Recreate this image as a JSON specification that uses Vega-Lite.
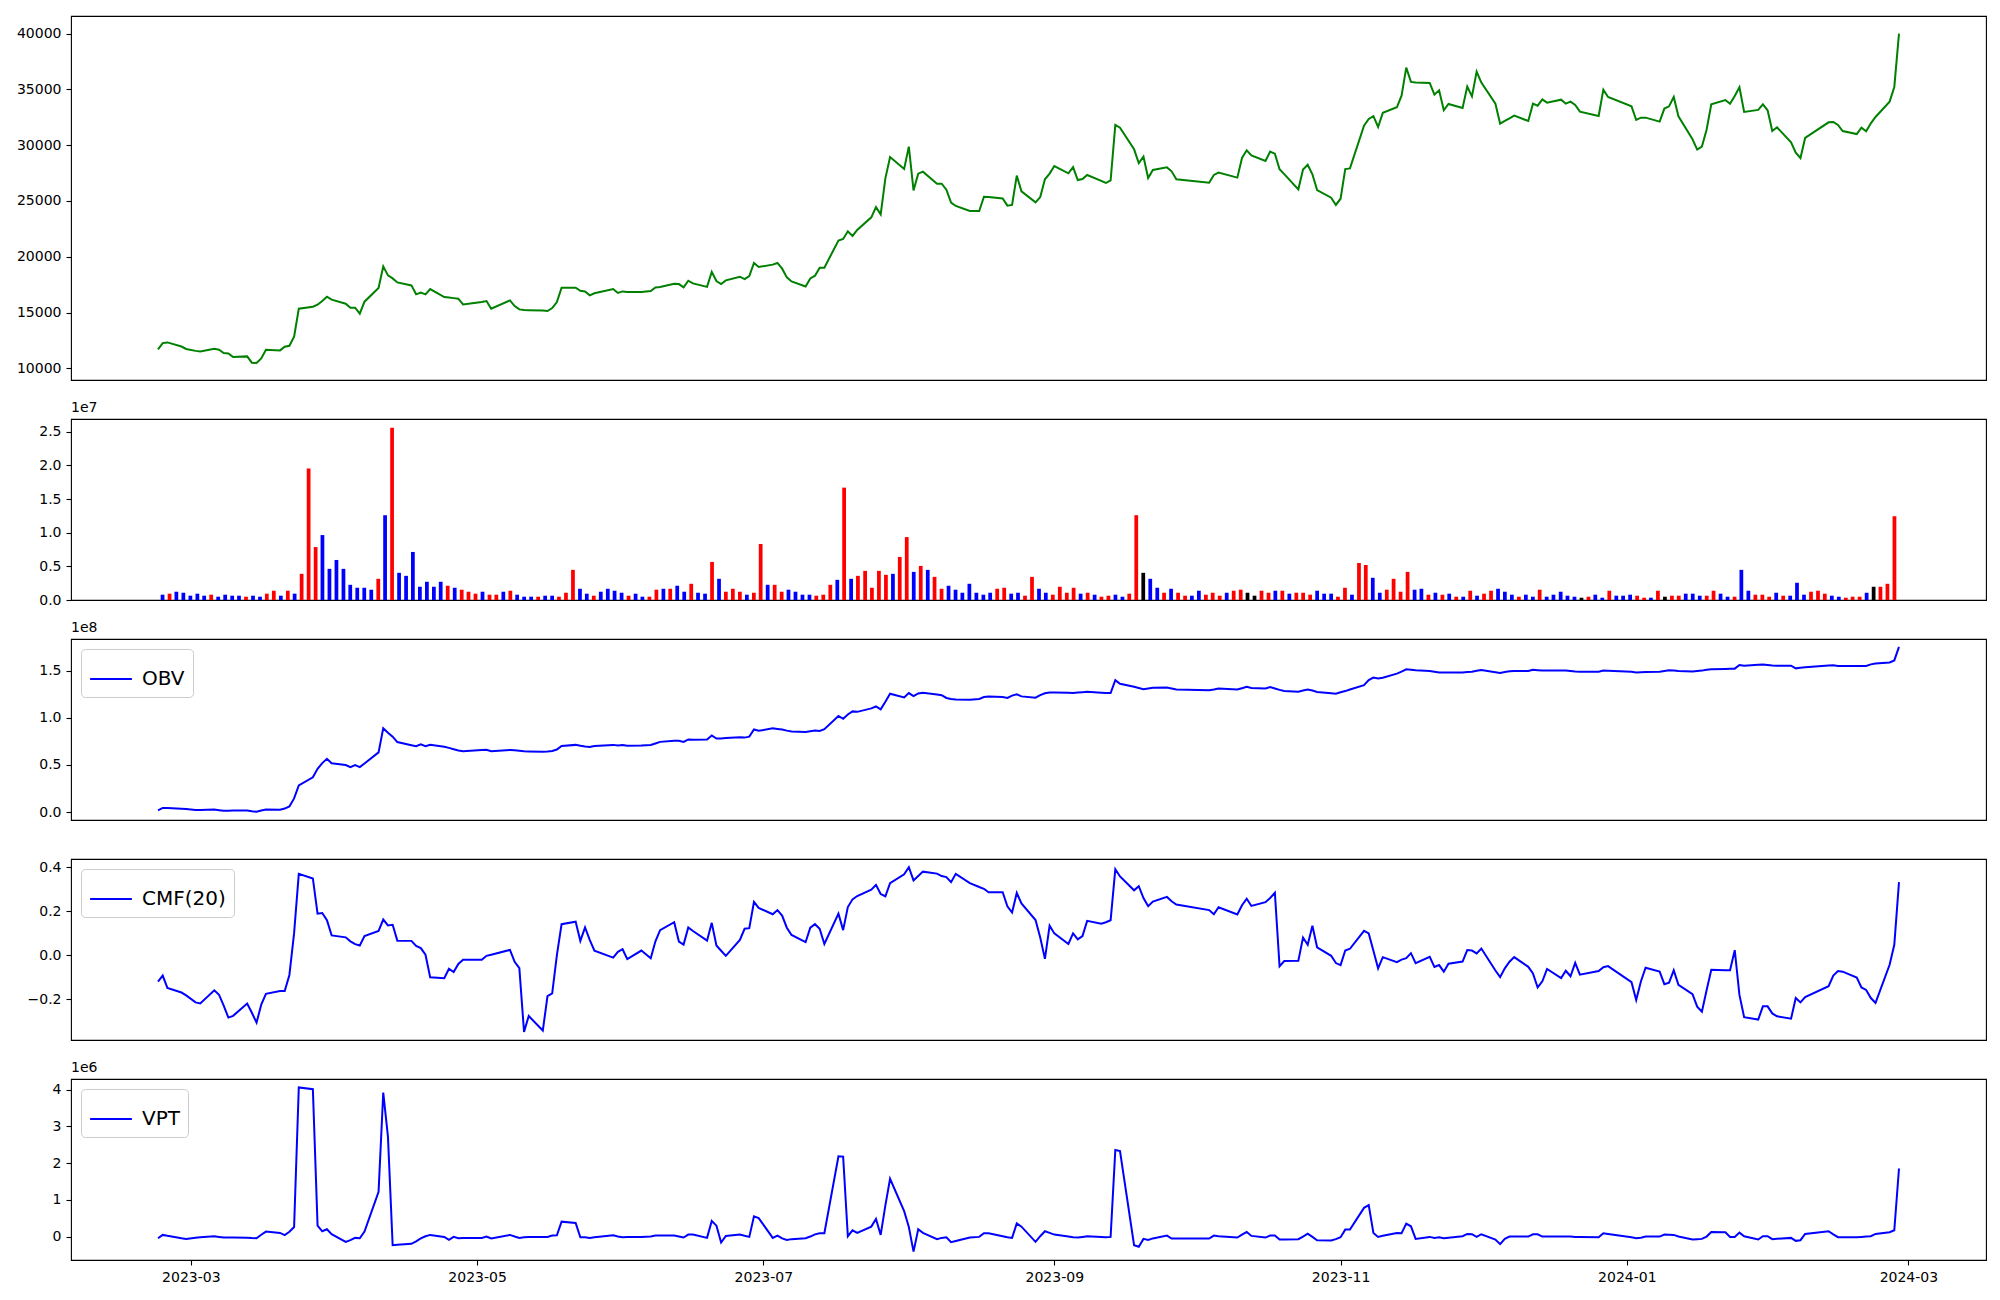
{
"$schema":"https://vega.github.io/schema/vega-lite/v6.json",
"padding":{"left":15,"top":15,"right":10,"bottom":10},
"background":"white",
"data":{"values":[
{"date":"2023-02-22","bdate":"2023-02-22T00:00Z","close":11700,"vol":790000,"dir":"down","obv":2000000,"cmf":-0.12,"vpt":-45000},
{"date":"2023-02-23","bdate":"2023-02-23T12:00Z","close":12260,"vol":940000,"dir":"up","obv":4500000,"cmf":-0.093,"vpt":45000},
{"date":"2023-02-24","bdate":"2023-02-24T23:00Z","close":12320,"vol":1230000,"dir":"down","obv":4400000,"cmf":-0.149,"vpt":20000},
{"date":"2023-02-27","bdate":"2023-02-26T11:00Z","close":11950,"vol":1080000,"dir":"down","obv":3700000,"cmf":-0.17,"vpt":-45000},
{"date":"2023-02-28","bdate":"2023-02-27T23:00Z","close":11730,"vol":640000,"dir":"down","obv":3400000,"cmf":-0.183,"vpt":-63000},
{"date":"2023-03-02","bdate":"2023-03-01T11:00Z","close":11560,"vol":940000,"dir":"down","obv":2400000,"cmf":-0.215,"vpt":-30000},
{"date":"2023-03-03","bdate":"2023-03-02T22:00Z","close":11515,"vol":640000,"dir":"down","obv":2200000,"cmf":-0.22,"vpt":-20000},
{"date":"2023-03-06","bdate":"2023-03-04T10:00Z","close":11740,"vol":790000,"dir":"up","obv":2800000,"cmf":-0.16,"vpt":9000},
{"date":"2023-03-07","bdate":"2023-03-05T22:00Z","close":11660,"vol":490000,"dir":"down","obv":2100000,"cmf":-0.18,"vpt":-10000},
{"date":"2023-03-08","bdate":"2023-03-07T10:00Z","close":11370,"vol":790000,"dir":"down","obv":1500000,"cmf":-0.23,"vpt":-27000},
{"date":"2023-03-09","bdate":"2023-03-08T22:00Z","close":11336,"vol":640000,"dir":"down","obv":1600000,"cmf":-0.284,"vpt":-27000},
{"date":"2023-03-10","bdate":"2023-03-10T09:00Z","close":11007,"vol":640000,"dir":"down","obv":1800000,"cmf":-0.276,"vpt":-27000},
{"date":"2023-03-13","bdate":"2023-03-11T21:00Z","close":11067,"vol":490000,"dir":"up","obv":1800000,"cmf":-0.22,"vpt":-30000},
{"date":"2023-03-14","bdate":"2023-03-13T09:00Z","close":10500,"vol":640000,"dir":"down","obv":1000000,"cmf":-0.262,"vpt":-40000},
{"date":"2023-03-15","bdate":"2023-03-14T21:00Z","close":10470,"vol":490000,"dir":"down","obv":500000,"cmf":-0.307,"vpt":-45000},
{"date":"2023-03-16","bdate":"2023-03-16T08:00Z","close":10890,"vol":940000,"dir":"up","obv":1700000,"cmf":-0.225,"vpt":50000},
{"date":"2023-03-17","bdate":"2023-03-17T20:00Z","close":11660,"vol":1380000,"dir":"up","obv":2800000,"cmf":-0.176,"vpt":135000},
{"date":"2023-03-20","bdate":"2023-03-19T08:00Z","close":11605,"vol":640000,"dir":"down","obv":2500000,"cmf":-0.163,"vpt":100000},
{"date":"2023-03-21","bdate":"2023-03-20T20:00Z","close":11930,"vol":1380000,"dir":"up","obv":3800000,"cmf":-0.163,"vpt":40000},
{"date":"2023-03-22","bdate":"2023-03-22T07:00Z","close":12020,"vol":940000,"dir":"down","obv":6100000,"cmf":-0.09,"vpt":130000},
{"date":"2023-03-23","bdate":"2023-03-23T19:00Z","close":12830,"vol":3890000,"dir":"up","obv":14600000,"cmf":0.1,"vpt":260000},
{"date":"2023-03-24","bdate":"2023-03-25T07:00Z","close":15340,"vol":19540000,"dir":"up","obv":28400000,"cmf":0.37,"vpt":4060000},
{"date":"2023-03-27","bdate":"2023-03-26T19:00Z","close":15520,"vol":7870000,"dir":"up","obv":37000000,"cmf":0.349,"vpt":4010000},
{"date":"2023-03-28","bdate":"2023-03-28T06:00Z","close":15700,"vol":9650000,"dir":"down","obv":45900000,"cmf":0.189,"vpt":300000},
{"date":"2023-03-29","bdate":"2023-03-29T18:00Z","close":16030,"vol":4630000,"dir":"down","obv":52000000,"cmf":0.192,"vpt":144000},
{"date":"2023-03-30","bdate":"2023-03-31T06:00Z","close":16420,"vol":5950000,"dir":"down","obv":56500000,"cmf":0.159,"vpt":198000},
{"date":"2023-03-31","bdate":"2023-04-01T18:00Z","close":16150,"vol":4630000,"dir":"down","obv":51800000,"cmf":0.09,"vpt":63000},
{"date":"2023-04-03","bdate":"2023-04-03T05:00Z","close":15790,"vol":2260000,"dir":"down","obv":50000000,"cmf":0.081,"vpt":-144000},
{"date":"2023-04-04","bdate":"2023-04-04T17:00Z","close":15430,"vol":1820000,"dir":"down","obv":47700000,"cmf":0.063,"vpt":-99000},
{"date":"2023-04-05","bdate":"2023-04-06T05:00Z","close":15430,"vol":1820000,"dir":"down","obv":49800000,"cmf":0.05,"vpt":-36000},
{"date":"2023-04-06","bdate":"2023-04-07T17:00Z","close":14890,"vol":1530000,"dir":"down","obv":47700000,"cmf":0.044,"vpt":-45000},
{"date":"2023-04-07","bdate":"2023-04-09T05:00Z","close":15970,"vol":3150000,"dir":"up","obv":51600000,"cmf":0.087,"vpt":135000},
{"date":"2023-04-10","bdate":"2023-04-10T16:00Z","close":17190,"vol":12600000,"dir":"down","obv":63400000,"cmf":0.11,"vpt":1220000},
{"date":"2023-04-11","bdate":"2023-04-12T04:00Z","close":19140,"vol":25600000,"dir":"up","obv":89000000,"cmf":0.162,"vpt":3920000},
{"date":"2023-04-12","bdate":"2023-04-13T16:00Z","close":18330,"vol":4040000,"dir":"down","obv":84200000,"cmf":0.135,"vpt":2720000},
{"date":"2023-04-13","bdate":"2023-04-15T04:00Z","close":18060,"vol":3590000,"dir":"down","obv":80000000,"cmf":0.138,"vpt":-234000},
{"date":"2023-04-14","bdate":"2023-04-16T15:00Z","close":17700,"vol":7140000,"dir":"down","obv":74300000,"cmf":0.066,"vpt":-220000},
{"date":"2023-04-17","bdate":"2023-04-18T03:00Z","close":17430,"vol":1970000,"dir":"down","obv":71000000,"cmf":0.065,"vpt":-198000},
{"date":"2023-04-18","bdate":"2023-04-19T15:00Z","close":16630,"vol":2710000,"dir":"down","obv":70000000,"cmf":0.042,"vpt":-130000},
{"date":"2023-04-19","bdate":"2023-04-21T03:00Z","close":16780,"vol":1970000,"dir":"down","obv":71800000,"cmf":0.032,"vpt":-50000},
{"date":"2023-04-20","bdate":"2023-04-22T14:00Z","close":16630,"vol":2710000,"dir":"down","obv":70000000,"cmf":0.002,"vpt":9000},
{"date":"2023-04-21","bdate":"2023-04-24T02:00Z","close":17100,"vol":2120000,"dir":"up","obv":71500000,"cmf":-0.101,"vpt":45000},
{"date":"2023-04-24","bdate":"2023-04-25T14:00Z","close":16390,"vol":1820000,"dir":"down","obv":69400000,"cmf":-0.105,"vpt":-9000},
{"date":"2023-04-25","bdate":"2023-04-27T02:00Z","close":16340,"vol":1530000,"dir":"up","obv":68100000,"cmf":-0.062,"vpt":-90000},
{"date":"2023-04-26","bdate":"2023-04-28T13:00Z","close":16290,"vol":1230000,"dir":"up","obv":66700000,"cmf":-0.077,"vpt":-9000},
{"date":"2023-04-27","bdate":"2023-04-30T01:00Z","close":16240,"vol":940000,"dir":"up","obv":65300000,"cmf":-0.04,"vpt":-45000},
{"date":"2023-04-28","bdate":"2023-05-01T13:00Z","close":15730,"vol":1230000,"dir":"down","obv":64600000,"cmf":-0.021,"vpt":-40000},
{"date":"2023-05-02","bdate":"2023-05-03T01:00Z","close":15950,"vol":790000,"dir":"up","obv":65900000,"cmf":-0.021,"vpt":-36000},
{"date":"2023-05-03","bdate":"2023-05-04T12:00Z","close":16030,"vol":790000,"dir":"up","obv":66200000,"cmf":-0.003,"vpt":0},
{"date":"2023-05-04","bdate":"2023-05-06T00:00Z","close":15340,"vol":1230000,"dir":"down","obv":64500000,"cmf":0.002,"vpt":-54000},
{"date":"2023-05-08","bdate":"2023-05-07T12:00Z","close":16090,"vol":1380000,"dir":"up","obv":66000000,"cmf":0.024,"vpt":45000},
{"date":"2023-05-09","bdate":"2023-05-08T23:00Z","close":15580,"vol":790000,"dir":"down","obv":65600000,"cmf":-0.03,"vpt":0},
{"date":"2023-05-10","bdate":"2023-05-10T11:00Z","close":15280,"vol":490000,"dir":"down","obv":65000000,"cmf":-0.059,"vpt":-36000},
{"date":"2023-05-11","bdate":"2023-05-11T23:00Z","close":15220,"vol":490000,"dir":"down","obv":64500000,"cmf":-0.349,"vpt":-18000},
{"date":"2023-05-12","bdate":"2023-05-13T11:00Z","close":15210,"vol":490000,"dir":"up","obv":64400000,"cmf":-0.277,"vpt":-15000},
{"date":"2023-05-15","bdate":"2023-05-14T23:00Z","close":15190,"vol":640000,"dir":"down","obv":64100000,"cmf":-0.343,"vpt":-10000},
{"date":"2023-05-16","bdate":"2023-05-16T11:00Z","close":15130,"vol":640000,"dir":"down","obv":64300000,"cmf":-0.186,"vpt":-9000},
{"date":"2023-05-17","bdate":"2023-05-17T22:00Z","close":15400,"vol":490000,"dir":"up","obv":64900000,"cmf":-0.174,"vpt":30000},
{"date":"2023-05-18","bdate":"2023-05-19T10:00Z","close":15940,"vol":1080000,"dir":"up","obv":66400000,"cmf":0.0,"vpt":36000},
{"date":"2023-05-19","bdate":"2023-05-20T22:00Z","close":17220,"vol":4480000,"dir":"up","obv":70100000,"cmf":0.141,"vpt":405000},
{"date":"2023-05-22","bdate":"2023-05-22T10:00Z","close":17220,"vol":1670000,"dir":"down","obv":71300000,"cmf":0.152,"vpt":369000},
{"date":"2023-05-23","bdate":"2023-05-23T21:00Z","close":16950,"vol":940000,"dir":"down","obv":70400000,"cmf":0.065,"vpt":-18000},
{"date":"2023-05-24","bdate":"2023-05-25T09:00Z","close":16890,"vol":640000,"dir":"up","obv":69500000,"cmf":0.126,"vpt":-20000},
{"date":"2023-05-25","bdate":"2023-05-26T21:00Z","close":16540,"vol":1230000,"dir":"down","obv":69000000,"cmf":0.07,"vpt":-36000},
{"date":"2023-05-26","bdate":"2023-05-28T09:00Z","close":16720,"vol":1670000,"dir":"down","obv":70000000,"cmf":0.02,"vpt":-20000},
{"date":"2023-05-30","bdate":"2023-05-29T20:00Z","close":17100,"vol":1380000,"dir":"down","obv":71300000,"cmf":-0.011,"vpt":36000},
{"date":"2023-05-31","bdate":"2023-05-31T08:00Z","close":16750,"vol":1080000,"dir":"down","obv":70700000,"cmf":0.015,"vpt":0},
{"date":"2023-06-01","bdate":"2023-06-01T20:00Z","close":16890,"vol":640000,"dir":"up","obv":71200000,"cmf":0.027,"vpt":-18000},
{"date":"2023-06-02","bdate":"2023-06-03T08:00Z","close":16840,"vol":940000,"dir":"down","obv":70400000,"cmf":-0.018,"vpt":-15000},
{"date":"2023-06-05","bdate":"2023-06-04T19:00Z","close":16840,"vol":490000,"dir":"down","obv":70700000,"cmf":0.021,"vpt":-10000},
{"date":"2023-06-07","bdate":"2023-06-06T07:00Z","close":16930,"vol":490000,"dir":"up","obv":71200000,"cmf":-0.014,"vpt":0},
{"date":"2023-06-08","bdate":"2023-06-07T19:00Z","close":17250,"vol":1530000,"dir":"up","obv":72800000,"cmf":0.063,"vpt":27000},
{"date":"2023-06-09","bdate":"2023-06-09T07:00Z","close":17280,"vol":1670000,"dir":"down","obv":74500000,"cmf":0.114,"vpt":27000},
{"date":"2023-06-12","bdate":"2023-06-10T18:00Z","close":17580,"vol":1670000,"dir":"up","obv":75700000,"cmf":0.15,"vpt":27000},
{"date":"2023-06-13","bdate":"2023-06-12T06:00Z","close":17550,"vol":2120000,"dir":"down","obv":75600000,"cmf":0.062,"vpt":0},
{"date":"2023-06-14","bdate":"2023-06-13T18:00Z","close":17250,"vol":1230000,"dir":"down","obv":74500000,"cmf":0.048,"vpt":-27000},
{"date":"2023-06-15","bdate":"2023-06-15T06:00Z","close":17850,"vol":2410000,"dir":"up","obv":77100000,"cmf":0.126,"vpt":54000},
{"date":"2023-06-16","bdate":"2023-06-16T17:00Z","close":17610,"vol":1080000,"dir":"down","obv":76700000,"cmf":0.11,"vpt":54000},
{"date":"2023-06-19","bdate":"2023-06-18T05:00Z","close":17300,"vol":940000,"dir":"down","obv":77000000,"cmf":0.066,"vpt":-36000},
{"date":"2023-06-20","bdate":"2023-06-19T17:00Z","close":18640,"vol":5660000,"dir":"up","obv":81300000,"cmf":0.147,"vpt":423000},
{"date":"2023-06-21","bdate":"2023-06-21T05:00Z","close":17820,"vol":3150000,"dir":"down","obv":78000000,"cmf":0.044,"vpt":297000},
{"date":"2023-06-22","bdate":"2023-06-22T16:00Z","close":17550,"vol":1230000,"dir":"up","obv":78000000,"cmf":0.02,"vpt":-162000},
{"date":"2023-06-23","bdate":"2023-06-24T04:00Z","close":17880,"vol":1670000,"dir":"up","obv":78600000,"cmf":-0.003,"vpt":18000},
{"date":"2023-06-26","bdate":"2023-06-25T16:00Z","close":18210,"vol":1230000,"dir":"up","obv":79400000,"cmf":0.069,"vpt":54000},
{"date":"2023-06-27","bdate":"2023-06-27T04:00Z","close":18000,"vol":790000,"dir":"down","obv":79000000,"cmf":0.12,"vpt":20000},
{"date":"2023-06-28","bdate":"2023-06-28T16:00Z","close":18270,"vol":1080000,"dir":"up","obv":80000000,"cmf":0.123,"vpt":-9000},
{"date":"2023-06-29","bdate":"2023-06-30T03:00Z","close":19440,"vol":8320000,"dir":"up","obv":87600000,"cmf":0.242,"vpt":549000},
{"date":"2023-06-30","bdate":"2023-07-01T15:00Z","close":19080,"vol":2260000,"dir":"down","obv":86200000,"cmf":0.215,"vpt":504000},
{"date":"2023-07-03","bdate":"2023-07-03T03:00Z","close":19290,"vol":2260000,"dir":"up","obv":88800000,"cmf":0.186,"vpt":-36000},
{"date":"2023-07-04","bdate":"2023-07-04T15:00Z","close":19440,"vol":1230000,"dir":"up","obv":88200000,"cmf":0.205,"vpt":27000},
{"date":"2023-07-05","bdate":"2023-07-06T02:00Z","close":18930,"vol":1530000,"dir":"down","obv":87500000,"cmf":0.18,"vpt":-50000},
{"date":"2023-07-06","bdate":"2023-07-07T14:00Z","close":18150,"vol":1230000,"dir":"down","obv":86400000,"cmf":0.125,"vpt":-90000},
{"date":"2023-07-07","bdate":"2023-07-09T02:00Z","close":17790,"vol":790000,"dir":"down","obv":85600000,"cmf":0.092,"vpt":-70000},
{"date":"2023-07-10","bdate":"2023-07-10T14:00Z","close":17340,"vol":790000,"dir":"down","obv":85000000,"cmf":0.059,"vpt":-45000},
{"date":"2023-07-11","bdate":"2023-07-12T01:00Z","close":18060,"vol":640000,"dir":"up","obv":85800000,"cmf":0.125,"vpt":0},
{"date":"2023-07-12","bdate":"2023-07-13T13:00Z","close":18300,"vol":790000,"dir":"up","obv":86500000,"cmf":0.141,"vpt":60000},
{"date":"2023-07-13","bdate":"2023-07-15T01:00Z","close":19020,"vol":2260000,"dir":"up","obv":86000000,"cmf":0.12,"vpt":90000},
{"date":"2023-07-14","bdate":"2023-07-16T13:00Z","close":19020,"vol":3000000,"dir":"down","obv":88000000,"cmf":0.051,"vpt":90000},
{"date":"2023-07-17","bdate":"2023-07-18T00:00Z","close":21450,"vol":16700000,"dir":"up","obv":102000000,"cmf":0.189,"vpt":2185000},
{"date":"2023-07-18","bdate":"2023-07-19T12:00Z","close":21590,"vol":3150000,"dir":"down","obv":99000000,"cmf":0.114,"vpt":2176000},
{"date":"2023-07-19","bdate":"2023-07-20T23:00Z","close":22280,"vol":3590000,"dir":"up","obv":103500000,"cmf":0.219,"vpt":9000},
{"date":"2023-07-20","bdate":"2023-07-22T12:00Z","close":21860,"vol":4330000,"dir":"up","obv":106800000,"cmf":0.254,"vpt":171000},
{"date":"2023-07-21","bdate":"2023-07-23T23:00Z","close":22400,"vol":1820000,"dir":"up","obv":106300000,"cmf":0.269,"vpt":99000},
{"date":"2023-07-24","bdate":"2023-07-25T11:00Z","close":23530,"vol":4330000,"dir":"up","obv":110000000,"cmf":0.298,"vpt":270000},
{"date":"2023-07-25","bdate":"2023-07-26T23:00Z","close":24450,"vol":3740000,"dir":"up","obv":112000000,"cmf":0.32,"vpt":477000},
{"date":"2023-07-26","bdate":"2023-07-28T11:00Z","close":23800,"vol":3890000,"dir":"down","obv":109000000,"cmf":0.278,"vpt":45000},
{"date":"2023-07-27","bdate":"2023-07-29T22:00Z","close":27030,"vol":6400000,"dir":"up","obv":117000000,"cmf":0.268,"vpt":850000},
{"date":"2023-07-28","bdate":"2023-07-31T10:00Z","close":28940,"vol":9350000,"dir":"up","obv":125500000,"cmf":0.328,"vpt":1574000},
{"date":"2023-07-31","bdate":"2023-08-01T22:00Z","close":27870,"vol":4180000,"dir":"down","obv":121500000,"cmf":0.368,"vpt":692000},
{"date":"2023-08-01","bdate":"2023-08-03T10:00Z","close":29870,"vol":5070000,"dir":"up","obv":126200000,"cmf":0.4,"vpt":261000},
{"date":"2023-08-02","bdate":"2023-08-04T22:00Z","close":25950,"vol":4480000,"dir":"down","obv":123000000,"cmf":0.34,"vpt":-410000},
{"date":"2023-08-03","bdate":"2023-08-06T09:00Z","close":27450,"vol":3440000,"dir":"up","obv":125800000,"cmf":0.36,"vpt":198000},
{"date":"2023-08-04","bdate":"2023-08-07T21:00Z","close":27630,"vol":1670000,"dir":"up","obv":126600000,"cmf":0.38,"vpt":100000},
{"date":"2023-08-07","bdate":"2023-08-09T09:00Z","close":26550,"vol":2120000,"dir":"down","obv":124800000,"cmf":0.371,"vpt":-72000},
{"date":"2023-08-08","bdate":"2023-08-10T21:00Z","close":26550,"vol":1530000,"dir":"down","obv":124000000,"cmf":0.36,"vpt":-36000},
{"date":"2023-08-09","bdate":"2023-08-12T08:00Z","close":26010,"vol":1080000,"dir":"down","obv":121000000,"cmf":0.355,"vpt":-18000},
{"date":"2023-08-10","bdate":"2023-08-13T20:00Z","close":24850,"vol":2410000,"dir":"down","obv":120000000,"cmf":0.332,"vpt":-153000},
{"date":"2023-08-11","bdate":"2023-08-15T08:00Z","close":24550,"vol":1080000,"dir":"down","obv":119500000,"cmf":0.37,"vpt":-120000},
{"date":"2023-08-14","bdate":"2023-08-16T20:00Z","close":24100,"vol":790000,"dir":"down","obv":119200000,"cmf":0.328,"vpt":-27000},
{"date":"2023-08-16","bdate":"2023-08-18T07:00Z","close":24100,"vol":1080000,"dir":"down","obv":120000000,"cmf":0.31,"vpt":-9000},
{"date":"2023-08-17","bdate":"2023-08-19T19:00Z","close":25380,"vol":1670000,"dir":"up","obv":122000000,"cmf":0.302,"vpt":90000},
{"date":"2023-08-18","bdate":"2023-08-21T07:00Z","close":25350,"vol":1820000,"dir":"up","obv":122500000,"cmf":0.286,"vpt":90000},
{"date":"2023-08-21","bdate":"2023-08-22T19:00Z","close":25230,"vol":940000,"dir":"down","obv":122000000,"cmf":0.286,"vpt":9000},
{"date":"2023-08-22","bdate":"2023-08-24T06:00Z","close":24580,"vol":1080000,"dir":"down","obv":121000000,"cmf":0.222,"vpt":-20000},
{"date":"2023-08-23","bdate":"2023-08-25T18:00Z","close":24640,"vol":640000,"dir":"up","obv":123500000,"cmf":0.194,"vpt":-36000},
{"date":"2023-08-24","bdate":"2023-08-27T06:00Z","close":27270,"vol":3440000,"dir":"up","obv":124800000,"cmf":0.283,"vpt":360000},
{"date":"2023-08-25","bdate":"2023-08-28T18:00Z","close":25860,"vol":1670000,"dir":"down","obv":122700000,"cmf":0.235,"vpt":270000},
{"date":"2023-08-28","bdate":"2023-08-30T05:00Z","close":24880,"vol":1080000,"dir":"down","obv":121300000,"cmf":0.16,"vpt":-144000},
{"date":"2023-08-29","bdate":"2023-08-31T17:00Z","close":25350,"vol":790000,"dir":"up","obv":124000000,"cmf":0.08,"vpt":10000},
{"date":"2023-08-30","bdate":"2023-09-02T05:00Z","close":26940,"vol":1970000,"dir":"up","obv":126000000,"cmf":-0.017,"vpt":144000},
{"date":"2023-08-31","bdate":"2023-09-03T17:00Z","close":27450,"vol":1080000,"dir":"up","obv":126900000,"cmf":0.134,"vpt":100000},
{"date":"2023-09-01","bdate":"2023-09-05T04:00Z","close":28130,"vol":1820000,"dir":"up","obv":126800000,"cmf":0.099,"vpt":54000},
{"date":"2023-09-04","bdate":"2023-09-06T16:00Z","close":27480,"vol":940000,"dir":"down","obv":126600000,"cmf":0.051,"vpt":0},
{"date":"2023-09-05","bdate":"2023-09-08T04:00Z","close":28040,"vol":1080000,"dir":"up","obv":126200000,"cmf":0.099,"vpt":-20000},
{"date":"2023-09-06","bdate":"2023-09-09T16:00Z","close":26880,"vol":790000,"dir":"down","obv":126800000,"cmf":0.072,"vpt":-27000},
{"date":"2023-09-07","bdate":"2023-09-11T03:00Z","close":26970,"vol":490000,"dir":"up","obv":127200000,"cmf":0.087,"vpt":-10000},
{"date":"2023-09-08","bdate":"2023-09-12T15:00Z","close":27330,"vol":640000,"dir":"up","obv":127600000,"cmf":0.156,"vpt":9000},
{"date":"2023-09-11","bdate":"2023-09-14T03:00Z","close":26800,"vol":790000,"dir":"down","obv":126600000,"cmf":0.143,"vpt":-10000},
{"date":"2023-09-12","bdate":"2023-09-15T15:00Z","close":26610,"vol":490000,"dir":"down","obv":126200000,"cmf":0.15,"vpt":-18000},
{"date":"2023-09-13","bdate":"2023-09-17T02:00Z","close":26850,"vol":940000,"dir":"up","obv":126200000,"cmf":0.159,"vpt":-9000},
{"date":"2023-09-14","bdate":"2023-09-18T14:00Z","close":31810,"vol":12600000,"dir":"up","obv":139800000,"cmf":0.391,"vpt":2356000},
{"date":"2023-09-15","bdate":"2023-09-20T02:00Z","close":31570,"vol":4040000,"dir":"flat","obv":136000000,"cmf":0.358,"vpt":2329000},
{"date":"2023-09-18","bdate":"2023-09-21T14:00Z","close":29630,"vol":3150000,"dir":"down","obv":132800000,"cmf":0.295,"vpt":-234000},
{"date":"2023-09-19","bdate":"2023-09-23T02:00Z","close":28400,"vol":1820000,"dir":"down","obv":131500000,"cmf":0.314,"vpt":-279000},
{"date":"2023-09-20","bdate":"2023-09-24T13:00Z","close":28970,"vol":1080000,"dir":"up","obv":130200000,"cmf":0.26,"vpt":-63000},
{"date":"2023-09-21","bdate":"2023-09-26T01:00Z","close":27060,"vol":1670000,"dir":"down","obv":131000000,"cmf":0.223,"vpt":-90000},
{"date":"2023-09-22","bdate":"2023-09-27T13:00Z","close":27780,"vol":1080000,"dir":"up","obv":131800000,"cmf":0.244,"vpt":-50000},
{"date":"2023-09-25","bdate":"2023-09-29T01:00Z","close":28010,"vol":640000,"dir":"up","obv":132100000,"cmf":0.265,"vpt":27000},
{"date":"2023-09-26","bdate":"2023-09-30T12:00Z","close":27660,"vol":640000,"dir":"down","obv":131000000,"cmf":0.245,"vpt":-54000},
{"date":"2023-09-27","bdate":"2023-10-02T00:00Z","close":26940,"vol":1380000,"dir":"down","obv":130000000,"cmf":0.23,"vpt":-54000},
{"date":"2023-10-04","bdate":"2023-10-03T12:00Z","close":26640,"vol":790000,"dir":"up","obv":129300000,"cmf":0.205,"vpt":-54000},
{"date":"2023-10-05","bdate":"2023-10-04T23:00Z","close":27330,"vol":1080000,"dir":"up","obv":130000000,"cmf":0.186,"vpt":27000},
{"date":"2023-10-06","bdate":"2023-10-06T11:00Z","close":27540,"vol":640000,"dir":"up","obv":131000000,"cmf":0.218,"vpt":10000},
{"date":"2023-10-10","bdate":"2023-10-07T23:00Z","close":27090,"vol":1080000,"dir":"down","obv":130000000,"cmf":0.185,"vpt":-27000},
{"date":"2023-10-11","bdate":"2023-10-09T11:00Z","close":28850,"vol":1380000,"dir":"up","obv":131400000,"cmf":0.227,"vpt":50000},
{"date":"2023-10-12","bdate":"2023-10-10T23:00Z","close":29540,"vol":1530000,"dir":"up","obv":132800000,"cmf":0.257,"vpt":126000},
{"date":"2023-10-13","bdate":"2023-10-12T10:00Z","close":29090,"vol":1080000,"dir":"flat","obv":131600000,"cmf":0.224,"vpt":18000},
{"date":"2023-10-16","bdate":"2023-10-13T22:00Z","close":28580,"vol":640000,"dir":"flat","obv":131100000,"cmf":0.241,"vpt":-27000},
{"date":"2023-10-17","bdate":"2023-10-15T10:00Z","close":29420,"vol":1380000,"dir":"up","obv":132500000,"cmf":0.26,"vpt":27000},
{"date":"2023-10-18","bdate":"2023-10-16T22:00Z","close":29240,"vol":1080000,"dir":"up","obv":131000000,"cmf":0.284,"vpt":27000},
{"date":"2023-10-19","bdate":"2023-10-18T09:00Z","close":27840,"vol":1380000,"dir":"down","obv":129600000,"cmf":-0.051,"vpt":-81000},
{"date":"2023-10-20","bdate":"2023-10-19T21:00Z","close":27400,"vol":1380000,"dir":"up","obv":128300000,"cmf":-0.027,"vpt":-80000},
{"date":"2023-10-23","bdate":"2023-10-21T09:00Z","close":26040,"vol":940000,"dir":"down","obv":127700000,"cmf":-0.026,"vpt":-72000},
{"date":"2023-10-24","bdate":"2023-10-22T21:00Z","close":27810,"vol":1080000,"dir":"up","obv":129000000,"cmf":0.08,"vpt":0},
{"date":"2023-10-25","bdate":"2023-10-24T08:00Z","close":28250,"vol":1080000,"dir":"up","obv":130000000,"cmf":0.047,"vpt":81000},
{"date":"2023-10-26","bdate":"2023-10-25T20:00Z","close":27390,"vol":790000,"dir":"up","obv":129000000,"cmf":0.134,"vpt":-10000},
{"date":"2023-10-27","bdate":"2023-10-27T08:00Z","close":25980,"vol":1380000,"dir":"down","obv":127400000,"cmf":0.036,"vpt":-99000},
{"date":"2023-10-30","bdate":"2023-10-28T20:00Z","close":25290,"vol":940000,"dir":"down","obv":126000000,"cmf":-0.003,"vpt":-108000},
{"date":"2023-10-31","bdate":"2023-10-30T08:00Z","close":24640,"vol":940000,"dir":"down","obv":125600000,"cmf":-0.036,"vpt":-70000},
{"date":"2023-11-01","bdate":"2023-10-31T19:00Z","close":25200,"vol":490000,"dir":"up","obv":127000000,"cmf":-0.045,"vpt":-18000},
{"date":"2023-11-02","bdate":"2023-11-02T07:00Z","close":27860,"vol":1820000,"dir":"up","obv":128300000,"cmf":0.021,"vpt":189000},
{"date":"2023-11-03","bdate":"2023-11-03T19:00Z","close":27920,"vol":790000,"dir":"down","obv":130000000,"cmf":0.029,"vpt":189000},
{"date":"2023-11-06","bdate":"2023-11-05T07:00Z","close":31750,"vol":5500000,"dir":"up","obv":134500000,"cmf":0.111,"vpt":782000},
{"date":"2023-11-07","bdate":"2023-11-06T18:00Z","close":32350,"vol":5200000,"dir":"up","obv":140000000,"cmf":0.099,"vpt":854000},
{"date":"2023-11-08","bdate":"2023-11-08T06:00Z","close":32600,"vol":3300000,"dir":"down","obv":142600000,"cmf":0.02,"vpt":99000},
{"date":"2023-11-09","bdate":"2023-11-09T18:00Z","close":31630,"vol":1080000,"dir":"down","obv":141600000,"cmf":-0.06,"vpt":-9000},
{"date":"2023-11-10","bdate":"2023-11-11T06:00Z","close":32900,"vol":1530000,"dir":"up","obv":142500000,"cmf":-0.009,"vpt":20000},
{"date":"2023-11-13","bdate":"2023-11-12T17:00Z","close":33400,"vol":3150000,"dir":"up","obv":146800000,"cmf":-0.032,"vpt":99000},
{"date":"2023-11-14","bdate":"2023-11-14T05:00Z","close":34440,"vol":1230000,"dir":"up","obv":149000000,"cmf":-0.02,"vpt":90000},
{"date":"2023-11-15","bdate":"2023-11-15T17:00Z","close":36950,"vol":4180000,"dir":"up","obv":151400000,"cmf":-0.014,"vpt":351000},
{"date":"2023-11-16","bdate":"2023-11-17T05:00Z","close":35670,"vol":1530000,"dir":"down","obv":151000000,"cmf":0.009,"vpt":279000},
{"date":"2023-11-17","bdate":"2023-11-18T16:00Z","close":35620,"vol":1670000,"dir":"down","obv":150500000,"cmf":-0.036,"vpt":-63000},
{"date":"2023-11-20","bdate":"2023-11-20T04:00Z","close":35580,"vol":790000,"dir":"up","obv":149600000,"cmf":-0.008,"vpt":-9000},
{"date":"2023-11-21","bdate":"2023-11-21T16:00Z","close":34530,"vol":1080000,"dir":"down","obv":148700000,"cmf":-0.054,"vpt":-36000},
{"date":"2023-11-22","bdate":"2023-11-23T04:00Z","close":34920,"vol":790000,"dir":"up","obv":147900000,"cmf":-0.045,"vpt":-18000},
{"date":"2023-11-23","bdate":"2023-11-24T15:00Z","close":33130,"vol":940000,"dir":"down","obv":147900000,"cmf":-0.075,"vpt":-45000},
{"date":"2023-11-24","bdate":"2023-11-26T03:00Z","close":33690,"vol":490000,"dir":"up","obv":147900000,"cmf":-0.039,"vpt":-30000},
{"date":"2023-11-27","bdate":"2023-11-27T15:00Z","close":33330,"vol":490000,"dir":"down","obv":147900000,"cmf":-0.029,"vpt":9000},
{"date":"2023-11-28","bdate":"2023-11-29T03:00Z","close":35250,"vol":1380000,"dir":"up","obv":148500000,"cmf":0.023,"vpt":72000},
{"date":"2023-11-29","bdate":"2023-11-30T14:00Z","close":34380,"vol":640000,"dir":"down","obv":148900000,"cmf":0.021,"vpt":63000},
{"date":"2023-11-30","bdate":"2023-12-02T02:00Z","close":36590,"vol":940000,"dir":"up","obv":149800000,"cmf":0.008,"vpt":-9000},
{"date":"2023-12-01","bdate":"2023-12-03T14:00Z","close":35610,"vol":1380000,"dir":"up","obv":150700000,"cmf":0.03,"vpt":63000},
{"date":"2023-12-04","bdate":"2023-12-05T02:00Z","close":33720,"vol":1670000,"dir":"down","obv":148300000,"cmf":-0.07,"vpt":-81000},
{"date":"2023-12-05","bdate":"2023-12-06T13:00Z","close":31930,"vol":1230000,"dir":"down","obv":147500000,"cmf":-0.1,"vpt":-207000},
{"date":"2023-12-06","bdate":"2023-12-08T01:00Z","close":32170,"vol":790000,"dir":"down","obv":148500000,"cmf":-0.06,"vpt":-63000},
{"date":"2023-12-07","bdate":"2023-12-09T13:00Z","close":32410,"vol":490000,"dir":"up","obv":149200000,"cmf":-0.03,"vpt":0},
{"date":"2023-12-08","bdate":"2023-12-11T01:00Z","close":32650,"vol":790000,"dir":"down","obv":149600000,"cmf":-0.009,"vpt":0},
{"date":"2023-12-11","bdate":"2023-12-12T13:00Z","close":32170,"vol":490000,"dir":"down","obv":149600000,"cmf":-0.053,"vpt":0},
{"date":"2023-12-12","bdate":"2023-12-14T00:00Z","close":33720,"vol":1530000,"dir":"up","obv":151000000,"cmf":-0.083,"vpt":63000},
{"date":"2023-12-13","bdate":"2023-12-15T12:00Z","close":33540,"vol":490000,"dir":"down","obv":150500000,"cmf":-0.147,"vpt":63000},
{"date":"2023-12-14","bdate":"2023-12-16T23:00Z","close":34110,"vol":790000,"dir":"down","obv":150000000,"cmf":-0.119,"vpt":0},
{"date":"2023-12-15","bdate":"2023-12-18T12:00Z","close":33810,"vol":1230000,"dir":"down","obv":150000000,"cmf":-0.063,"vpt":0},
{"date":"2023-12-18","bdate":"2023-12-19T23:00Z","close":34080,"vol":640000,"dir":"down","obv":150000000,"cmf":-0.104,"vpt":0},
{"date":"2023-12-19","bdate":"2023-12-21T11:00Z","close":33720,"vol":490000,"dir":"down","obv":150000000,"cmf":-0.071,"vpt":0},
{"date":"2023-12-20","bdate":"2023-12-22T23:00Z","close":33900,"vol":340000,"dir":"flat","obv":149500000,"cmf":-0.096,"vpt":0},
{"date":"2023-12-21","bdate":"2023-12-24T11:00Z","close":33600,"vol":490000,"dir":"up","obv":149000000,"cmf":-0.035,"vpt":-9000},
{"date":"2023-12-22","bdate":"2023-12-25T22:00Z","close":33010,"vol":790000,"dir":"down","obv":148900000,"cmf":-0.089,"vpt":-10000},
{"date":"2023-12-26","bdate":"2023-12-27T10:00Z","close":32620,"vol":340000,"dir":"down","obv":148900000,"cmf":-0.072,"vpt":-18000},
{"date":"2023-12-27","bdate":"2023-12-28T22:00Z","close":34980,"vol":1380000,"dir":"up","obv":150000000,"cmf":-0.055,"vpt":90000},
{"date":"2023-12-28","bdate":"2023-12-30T10:00Z","close":34320,"vol":640000,"dir":"down","obv":149800000,"cmf":-0.05,"vpt":72000},
{"date":"2024-01-02","bdate":"2023-12-31T21:00Z","close":33480,"vol":640000,"dir":"down","obv":148900000,"cmf":-0.123,"vpt":-20000},
{"date":"2024-01-03","bdate":"2024-01-02T09:00Z","close":32260,"vol":790000,"dir":"down","obv":148000000,"cmf":-0.204,"vpt":-45000},
{"date":"2024-01-04","bdate":"2024-01-03T21:00Z","close":32470,"vol":640000,"dir":"up","obv":148200000,"cmf":-0.12,"vpt":-30000},
{"date":"2024-01-05","bdate":"2024-01-05T09:00Z","close":32470,"vol":340000,"dir":"up","obv":148400000,"cmf":-0.057,"vpt":0},
{"date":"2024-01-08","bdate":"2024-01-06T20:00Z","close":32110,"vol":340000,"dir":"down","obv":148900000,"cmf":-0.075,"vpt":0},
{"date":"2024-01-09","bdate":"2024-01-08T08:00Z","close":33280,"vol":1380000,"dir":"up","obv":149700000,"cmf":-0.132,"vpt":54000},
{"date":"2024-01-10","bdate":"2024-01-09T20:00Z","close":33480,"vol":490000,"dir":"flat","obv":150500000,"cmf":-0.125,"vpt":50000},
{"date":"2024-01-11","bdate":"2024-01-11T08:00Z","close":34320,"vol":640000,"dir":"up","obv":150000000,"cmf":-0.069,"vpt":45000},
{"date":"2024-01-12","bdate":"2024-01-12T19:00Z","close":32590,"vol":640000,"dir":"up","obv":149600000,"cmf":-0.135,"vpt":0},
{"date":"2024-01-15","bdate":"2024-01-14T07:00Z","close":30530,"vol":940000,"dir":"down","obv":149000000,"cmf":-0.177,"vpt":-80000},
{"date":"2024-01-16","bdate":"2024-01-15T19:00Z","close":29600,"vol":940000,"dir":"down","obv":149500000,"cmf":-0.234,"vpt":-70000},
{"date":"2024-01-17","bdate":"2024-01-17T07:00Z","close":29870,"vol":640000,"dir":"down","obv":150000000,"cmf":-0.257,"vpt":-63000},
{"date":"2024-01-18","bdate":"2024-01-18T19:00Z","close":31390,"vol":640000,"dir":"up","obv":151000000,"cmf":-0.16,"vpt":0},
{"date":"2024-01-19","bdate":"2024-01-20T06:00Z","close":33660,"vol":1380000,"dir":"up","obv":151500000,"cmf":-0.066,"vpt":126000},
{"date":"2024-01-22","bdate":"2024-01-21T18:00Z","close":34050,"vol":940000,"dir":"down","obv":151800000,"cmf":-0.069,"vpt":117000},
{"date":"2024-01-23","bdate":"2024-01-23T06:00Z","close":33720,"vol":490000,"dir":"down","obv":152000000,"cmf":-0.069,"vpt":-9000},
{"date":"2024-01-24","bdate":"2024-01-24T18:00Z","close":34410,"vol":490000,"dir":"up","obv":152100000,"cmf":0.023,"vpt":-9000},
{"date":"2024-01-25","bdate":"2024-01-26T05:00Z","close":35190,"vol":4480000,"dir":"down","obv":155900000,"cmf":-0.181,"vpt":108000},
{"date":"2024-01-26","bdate":"2024-01-27T17:00Z","close":32980,"vol":1380000,"dir":"down","obv":155200000,"cmf":-0.282,"vpt":9000},
{"date":"2024-01-29","bdate":"2024-01-29T05:00Z","close":33160,"vol":790000,"dir":"up","obv":156200000,"cmf":-0.293,"vpt":-81000},
{"date":"2024-01-30","bdate":"2024-01-30T17:00Z","close":33660,"vol":790000,"dir":"up","obv":156600000,"cmf":-0.233,"vpt":9000},
{"date":"2024-01-31","bdate":"2024-02-01T04:00Z","close":33130,"vol":490000,"dir":"up","obv":156000000,"cmf":-0.233,"vpt":9000},
{"date":"2024-02-01","bdate":"2024-02-02T16:00Z","close":31270,"vol":1080000,"dir":"down","obv":155500000,"cmf":-0.265,"vpt":-72000},
{"date":"2024-02-02","bdate":"2024-02-04T04:00Z","close":31600,"vol":640000,"dir":"up","obv":155200000,"cmf":-0.278,"vpt":-60000},
{"date":"2024-02-05","bdate":"2024-02-05T16:00Z","close":30260,"vol":640000,"dir":"down","obv":155200000,"cmf":-0.289,"vpt":-36000},
{"date":"2024-02-06","bdate":"2024-02-07T03:00Z","close":29330,"vol":2560000,"dir":"down","obv":152400000,"cmf":-0.195,"vpt":-117000},
{"date":"2024-02-07","bdate":"2024-02-08T15:00Z","close":28850,"vol":790000,"dir":"down","obv":153100000,"cmf":-0.215,"vpt":-99000},
{"date":"2024-02-08","bdate":"2024-02-10T03:00Z","close":30650,"vol":1230000,"dir":"up","obv":153500000,"cmf":-0.191,"vpt":72000},
{"date":"2024-02-13","bdate":"2024-02-11T15:00Z","close":32050,"vol":1380000,"dir":"up","obv":155300000,"cmf":-0.141,"vpt":144000},
{"date":"2024-02-14","bdate":"2024-02-13T02:00Z","close":32080,"vol":940000,"dir":"up","obv":155600000,"cmf":-0.093,"vpt":60000},
{"date":"2024-02-15","bdate":"2024-02-14T14:00Z","close":31810,"vol":640000,"dir":"down","obv":154900000,"cmf":-0.072,"vpt":-18000},
{"date":"2024-02-16","bdate":"2024-02-16T02:00Z","close":31270,"vol":490000,"dir":"down","obv":154900000,"cmf":-0.075,"vpt":-18000},
{"date":"2024-02-19","bdate":"2024-02-17T14:00Z","close":31000,"vol":340000,"dir":"up","obv":154900000,"cmf":-0.102,"vpt":-18000},
{"date":"2024-02-20","bdate":"2024-02-19T01:00Z","close":31570,"vol":490000,"dir":"up","obv":154900000,"cmf":-0.147,"vpt":-10000},
{"date":"2024-02-21","bdate":"2024-02-20T13:00Z","close":31240,"vol":490000,"dir":"up","obv":154900000,"cmf":-0.158,"vpt":0},
{"date":"2024-02-22","bdate":"2024-02-22T01:00Z","close":31960,"vol":1080000,"dir":"down","obv":156600000,"cmf":-0.195,"vpt":9000},
{"date":"2024-02-23","bdate":"2024-02-23T13:00Z","close":32530,"vol":1970000,"dir":"flat","obv":157500000,"cmf":-0.217,"vpt":72000},
{"date":"2024-02-26","bdate":"2024-02-25T00:00Z","close":33900,"vol":1970000,"dir":"up","obv":158600000,"cmf":-0.044,"vpt":120000},
{"date":"2024-02-27","bdate":"2024-02-26T12:00Z","close":35220,"vol":2410000,"dir":"up","obv":160800000,"cmf":0.047,"vpt":171000},
{"date":"2024-02-28","bdate":"2024-02-28T00:00Z","close":40000,"vol":12450000,"dir":"up","obv":175200000,"cmf":0.332,"vpt":1853000}
]},
"spacing":39,
"bounds":"flush",
"resolve":{"scale":{"x":"independent","y":"independent","color":"independent"},"legend":{"color":"independent"}},
"config":{
"font":"DejaVu Sans",
"view":{"stroke":"black","strokeWidth":1.1},
"axis":{"domain":false,"grid":false,"ticks":true,"tickColor":"black","tickWidth":1.1,"tickSize":5,"labelFont":"DejaVu Sans","labelFontSize":14,"labelColor":"black","labelPadding":5,"title":null},
"axisY":{"minExtent":55,"maxExtent":55},
"title":{"font":"DejaVu Sans","fontSize":14,"fontWeight":"normal","color":"black","anchor":"start","frame":"group","offset":4},
"legend":{"orient":"top-left","offset":10,"title":null,"symbolType":"stroke","symbolSize":1750,"symbolStrokeWidth":2,"labelFont":"DejaVu Sans","labelFontSize":20,"labelColor":"black","labelOffset":9,"fillColor":"rgba(255,255,255,0.8)","strokeColor":"#cccccc","cornerRadius":4,"padding":8}
},
"vconcat":[
{"width":1915,"height":364,
"mark":{"type":"line","color":"green","strokeWidth":2},
"encoding":{
"x":{"field":"date","type":"temporal","scale":{"type":"utc","domain":[{"year":2023,"month":2,"date":3,"hours":11,"utc":true},{"year":2024,"month":3,"date":17,"hours":13,"utc":true}]},"axis":null},
"y":{"field":"close","type":"quantitative","scale":{"domain":[8950,41580],"nice":false,"zero":false},"axis":{"values":[10000,15000,20000,25000,30000,35000,40000],"format":"d"}}}},
{"width":1915,"height":181,"title":{"text":"1e7"},
"mark":{"type":"bar","size":3.75},
"encoding":{
"x":{"field":"bdate","type":"temporal","scale":{"type":"utc","domain":[{"year":2023,"month":2,"date":3,"hours":11,"utc":true},{"year":2024,"month":3,"date":17,"hours":13,"utc":true}]},"axis":null},
"y":{"field":"vol","type":"quantitative","scale":{"domain":[0,26900000],"nice":false},"axis":{"values":[0,5000000,10000000,15000000,20000000,25000000],"labelExpr":"format(datum.value/1e7,'.1f')"}},
"color":{"field":"dir","type":"nominal","scale":{"domain":["up","down","flat"],"range":["red","blue","black"]},"legend":null}}},
{"width":1915,"height":181,"title":{"text":"1e8"},
"mark":{"type":"line","strokeWidth":2},
"encoding":{
"x":{"field":"date","type":"temporal","scale":{"type":"utc","domain":[{"year":2023,"month":2,"date":3,"hours":11,"utc":true},{"year":2024,"month":3,"date":17,"hours":13,"utc":true}]},"axis":null},
"y":{"field":"obv","type":"quantitative","scale":{"domain":[-8300000,183500000],"nice":false,"zero":false},"axis":{"values":[0,50000000,100000000,150000000],"labelExpr":"format(datum.value/1e8,'.1f')"}},
"color":{"datum":"OBV","scale":{"range":["blue"]}}}},
{"width":1915,"height":181,
"mark":{"type":"line","strokeWidth":2},
"encoding":{
"x":{"field":"date","type":"temporal","scale":{"type":"utc","domain":[{"year":2023,"month":2,"date":3,"hours":11,"utc":true},{"year":2024,"month":3,"date":17,"hours":13,"utc":true}]},"axis":null},
"y":{"field":"cmf","type":"quantitative","scale":{"domain":[-0.386,0.4375],"nice":false,"zero":false},"axis":{"values":[-0.2,0,0.2,0.4],"labelExpr":"replace(format(datum.value,'.1f'),'-','−')"}},
"color":{"datum":"CMF(20)","scale":{"range":["blue"]}}}},
{"width":1915,"height":181,"title":{"text":"1e6"},
"mark":{"type":"line","strokeWidth":2},
"encoding":{
"x":{"field":"date","type":"temporal","scale":{"type":"utc","domain":[{"year":2023,"month":2,"date":3,"hours":11,"utc":true},{"year":2024,"month":3,"date":17,"hours":13,"utc":true}]},"axis":{"values":[{"year":2023,"month":3,"date":1,"utc":true},{"year":2023,"month":5,"date":1,"utc":true},{"year":2023,"month":7,"date":1,"utc":true},{"year":2023,"month":9,"date":1,"utc":true},{"year":2023,"month":11,"date":1,"utc":true},{"year":2024,"month":1,"date":1,"utc":true},{"year":2024,"month":3,"date":1,"utc":true}],"labelExpr":"utcFormat(datum.value,'%Y-%m')","labelFlush":false}},
"y":{"field":"vpt","type":"quantitative","scale":{"domain":[-638000,4289000],"nice":false,"zero":false},"axis":{"values":[0,1000000,2000000,3000000,4000000],"labelExpr":"format(datum.value/1e6,'.0f')"}},
"color":{"datum":"VPT","scale":{"range":["blue"]}}}}
]
}
